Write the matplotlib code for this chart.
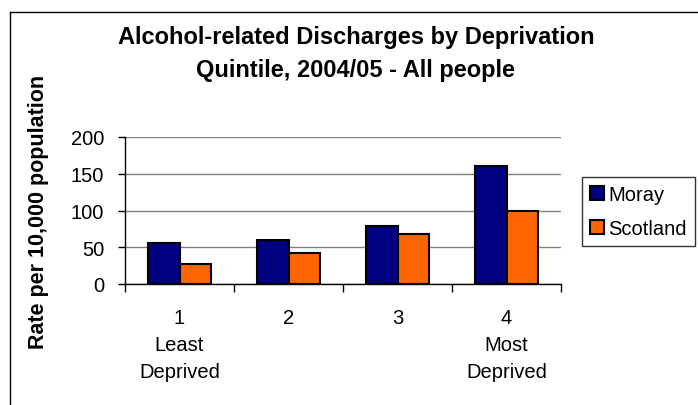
import matplotlib
matplotlib.use('Agg')
import matplotlib.pyplot as plt
from matplotlib.lines import Line2D
import numpy as np

plt.rcParams['font.family'] = ['Liberation Sans', 'DejaVu Sans']

# Data
quintiles = ['1\nLeast\nDeprived', '2', '3', '4\nMost\nDeprived']
moray = [55.5, 59.5, 78.5, 160.5]
scotland = [27, 42, 68, 99]
series_names = ['Moray', 'Scotland']
y_ticks = [0, 50, 100, 150, 200]

fig = plt.figure(figsize=(6.98, 4.06), dpi=100)
ax = fig.add_axes([125 / 698, 1 - 285 / 406, 436 / 698, 147 / 406])

x = np.arange(len(quintiles))
w = 0.286
ax.bar(x - w / 2, moray, w, color='#000080', edgecolor='black', linewidth=1.5,
       label=series_names[0], zorder=3)
ax.bar(x + w / 2, scotland, w, color='#FF6600', edgecolor='black', linewidth=1.5,
       label=series_names[1], zorder=3)

ax.set_xlim(-0.5, len(quintiles) - 0.5)
ax.set_ylim(0, 200)
ax.set_yticks(y_ticks)
ax.tick_params(axis='y', labelsize=14.5, length=5, width=1, pad=10, direction='out')
ax.yaxis.grid(True, color='#808080', linewidth=1, zorder=0)

# category boundary ticks, labels at the centres
ax.set_xticks(np.arange(len(quintiles) + 1) - 0.5)
ax.set_xticklabels([])
ax.tick_params(axis='x', which='major', length=6, width=1, direction='out')
ax.set_xticks(x, minor=True)
ax.set_xticklabels(quintiles, minor=True)
ax.tick_params(axis='x', which='minor', length=0, labelsize=14.5, pad=17)
plt.setp(ax.get_xticklabels(minor=True), linespacing=1.55)

for s in ['top', 'right']:
    ax.spines[s].set_visible(False)
for s in ['left', 'bottom']:
    ax.spines[s].set_linewidth(1)

ax.set_ylabel('Rate per 10,000 population', fontsize=15.5, fontweight='bold')
ax.yaxis.set_label_coords(-0.174, 0.497)

fig.text(356 / 698, 1 - 54 / 406,
         'Alcohol-related Discharges by Deprivation\nQuintile, 2004/05 - All people',
         ha='center', va='center', fontsize=17, fontweight='bold', linespacing=1.55)

leg = ax.legend(loc='upper left', bbox_to_anchor=(582 / 698, 1 - 178 / 406),
                bbox_transform=fig.transFigure, fontsize=14.5, frameon=True,
                fancybox=False, edgecolor='black', borderaxespad=0,
                handlelength=0.7, handleheight=0.7, handletextpad=0.2,
                labelspacing=0.75, borderpad=0.4)
leg.get_frame().set_linewidth(1)

# outer chart border (right and bottom run off the picture)
fig.add_artist(Line2D([10 / 698, 10 / 698], [0, 1 - 13 / 406], color='black',
                      linewidth=1, transform=fig.transFigure))
fig.add_artist(Line2D([10 / 698, 1], [1 - 13 / 406, 1 - 13 / 406], color='black',
                      linewidth=1, transform=fig.transFigure))

fig.savefig('out.png', dpi=100)
